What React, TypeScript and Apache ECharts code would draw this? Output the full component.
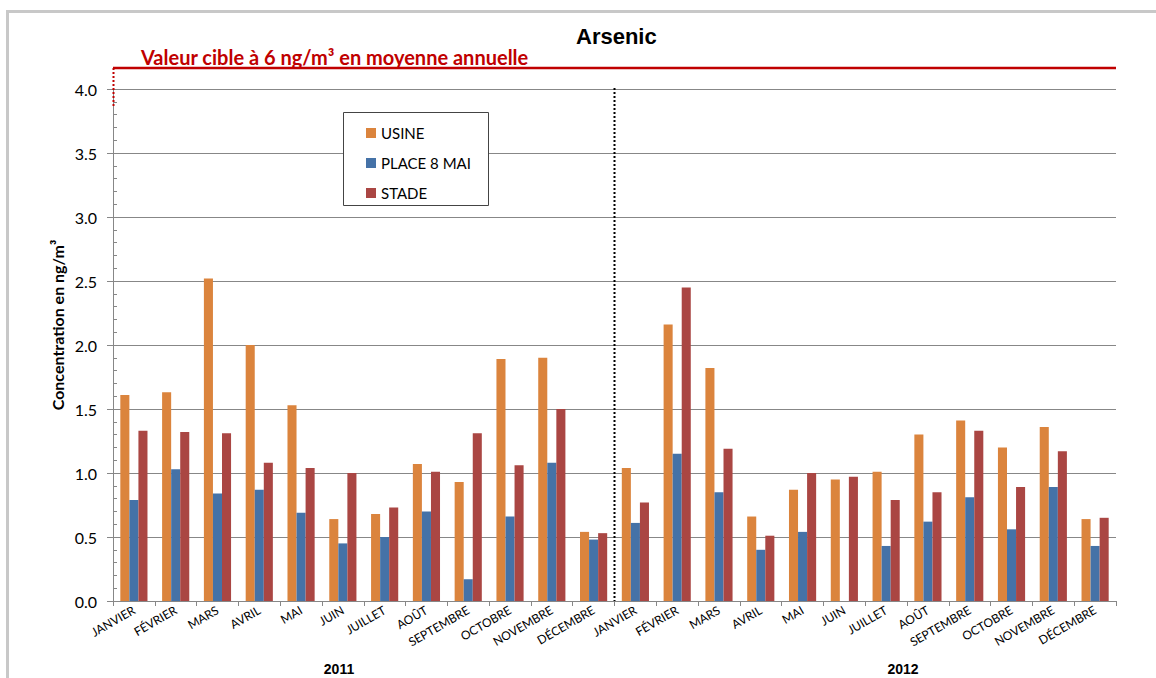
import React, { useEffect, useRef } from "react";
import * as echarts from "echarts";

const MONTHS = ["JANVIER", "FÉVRIER", "MARS", "AVRIL", "MAI", "JUIN", "JUILLET", "AOÛT", "SEPTEMBRE", "OCTOBRE", "NOVEMBRE", "DÉCEMBRE"];
const YEARS = ["2011", "2012"];
const SERIES_NAMES = ["USINE", "PLACE 8 MAI", "STADE"];
const USINE = [1.61, 1.63, 2.52, 2.0, 1.53, 0.64, 0.68, 1.07, 0.93, 1.89, 1.9, 0.54, 1.04, 2.16, 1.82, 0.66, 0.87, 0.95, 1.01, 1.3, 1.41, 1.2, 1.36, 0.64];
const PLACE = [0.79, 1.03, 0.84, 0.87, 0.69, 0.45, 0.5, 0.7, 0.17, 0.66, 1.08, 0.48, 0.61, 1.15, 0.85, 0.4, 0.54, null, 0.43, 0.62, 0.81, 0.56, 0.89, 0.43];
const STADE = [1.33, 1.32, 1.31, 1.08, 1.04, 1.0, 0.73, 1.01, 1.31, 1.06, 1.5, 0.53, 0.77, 2.45, 1.19, 0.51, 1.0, 0.97, 0.79, 0.85, 1.33, 0.89, 1.17, 0.65];
const Y_MIN = 0;
const Y_MAX = 4;
const Y_STEP = 0.5;
const Y_MINOR = 0.1;
const TITLE = "Arsenic";
const Y_NAME = "Concentration en ng/m³";
const TARGET_TEXT = "Valeur cible à 6 ng/m³ en moyenne annuelle";

const COLORS = ["#DB843D", "#4572A7", "#AA4643"];
const GRID = { left: 113, right: 40, top: 89, bottom: 77 };
const W = 1156;
const H = 678;

export default function App() {
  const ref = useRef<HTMLDivElement>(null);
  useEffect(() => {
    if (!ref.current) return;
    const chart = echarts.init(ref.current, null, { renderer: "svg" });
    const categories: string[] = [];
    YEARS.forEach((y) => MONTHS.forEach((m) => categories.push(m + "|" + y)));
    const plotW = W - GRID.left - GRID.right;
    const plotBottom = H - GRID.bottom;
    const sepX = GRID.left + plotW / 2;
    const values = [USINE, PLACE, STADE];
    const gray = "#878787";
    const calibri = "Lato, 'Open Sans', sans-serif";
    chart.setOption({
      animation: false,
      backgroundColor: "#ffffff",
      title: {
        text: TITLE,
        left: 571,
        top: 20,
        textStyle: { fontFamily: "'Liberation Sans', Arial, sans-serif", fontWeight: "bold", fontSize: 22, color: "#000" },
      },
      legend: {
        orient: "vertical",
        left: 361,
        top: 120,
        z: 10,
        itemWidth: 10,
        itemHeight: 10,
        itemGap: 14,
        icon: "rect",
        data: SERIES_NAMES,
        textStyle: { fontFamily: calibri, fontSize: 15, color: "#000", lineHeight: 16 },
      },
      grid: { ...GRID, containLabel: false, outerBoundsMode: "none" },
      xAxis: {
        type: "category",
        data: categories,
        boundaryGap: true,
        axisLine: { show: true, lineStyle: { color: gray, width: 1 } },
        axisTick: { show: true, length: 5, alignWithLabel: false, lineStyle: { color: gray } },
        axisLabel: {
          interval: 0,
          rotate: 30,
          margin: 8,
          fontFamily: calibri,
          fontSize: 12,
          color: "#000",
          formatter: (v: string) => v.split("|")[0],
        },
        splitLine: { show: false },
      },
      yAxis: [
        {
          type: "value",
          min: Y_MIN,
          max: Y_MAX,
          interval: Y_STEP,
          axisLine: { show: true, lineStyle: { color: gray, width: 1 } },
          axisTick: { show: true, length: 6, inside: false, lineStyle: { color: gray } },
          axisLabel: {
            margin: 16,
            fontFamily: calibri,
            fontSize: 16,
            color: "#000",
            formatter: (v: number) => v.toFixed(1),
          },
          splitLine: { show: true, lineStyle: { color: gray, width: 1 } },
        },
        {
          type: "value",
          min: Y_MIN,
          max: Y_MAX,
          interval: Y_MINOR,
          position: "left",
          offset: 0,
          axisLine: { show: false },
          axisTick: { show: true, inside: true, length: 4, lineStyle: { color: gray } },
          axisLabel: { show: false },
          splitLine: { show: false },
        },
      ],
      series: SERIES_NAMES.map((name, i) => ({
        name,
        type: "bar",
        yAxisIndex: 0,
        data: values[i].map((v) => (v == null ? "-" : v)),
        barGap: "0%",
        barCategoryGap: "35%",
        itemStyle: { color: COLORS[i] },
      })),
      graphic: [
        {
          type: "rect",
          z: 0,
          silent: true,
          shape: { x: 7.5, y: 11.5, width: 1200, height: 700 },
          style: { fill: "none", stroke: "#C8C8C8", lineWidth: 3 },
        },
        {
          type: "rect",
          z: 5,
          silent: true,
          shape: { x: 343.5, y: 112.5, width: 145, height: 93 },
          style: { fill: "#fff", stroke: "#444", lineWidth: 1 },
        },
        {
          type: "line",
          z: 5,
          silent: true,
          shape: { x1: GRID.left, y1: 68, x2: W - GRID.right, y2: 68 },
          style: { stroke: "#C00000", lineWidth: 2.5 },
        },
        {
          type: "line",
          z: 5,
          silent: true,
          shape: { x1: GRID.left + 0.5, y1: 68, x2: GRID.left + 0.5, y2: 107 },
          style: { stroke: "#C00000", lineWidth: 2, lineDash: [2, 2] },
        },
        {
          type: "text",
          z: 5,
          silent: true,
          x: 141,
          y: 57,
          style: {
            text: TARGET_TEXT,
            fill: "#C00000",
            font: "bold 20px " + calibri,
            align: "left",
            verticalAlign: "middle",
          },
        },
        {
          type: "line",
          z: 5,
          silent: true,
          shape: { x1: sepX, y1: GRID.top - 1, x2: sepX, y2: plotBottom },
          style: { stroke: "#000", lineWidth: 2, lineDash: [2, 2] },
        },
        {
          type: "text",
          z: 5,
          silent: true,
          x: 57,
          y: 325,
          rotation: Math.PI / 2,
          style: {
            text: Y_NAME,
            fill: "#000",
            font: "bold 16px " + calibri,
            align: "center",
            verticalAlign: "middle",
          },
        },
        {
          type: "text",
          z: 5,
          silent: true,
          x: 339,
          y: 669,
          style: {
            text: YEARS[0],
            fill: "#000",
            font: "bold 14px 'Liberation Sans', Arial, sans-serif",
            align: "center",
            verticalAlign: "middle",
          },
        },
        {
          type: "text",
          z: 5,
          silent: true,
          x: 903,
          y: 669,
          style: {
            text: YEARS[1],
            fill: "#000",
            font: "bold 14px 'Liberation Sans', Arial, sans-serif",
            align: "center",
            verticalAlign: "middle",
          },
        },
      ],
    });
    return () => chart.dispose();
  }, []);
  return (
    <div
      ref={ref}
      style={{ position: "fixed", left: 0, top: 0, width: W + "px", height: H + "px", background: "#fff" }}
    />
  );
}
